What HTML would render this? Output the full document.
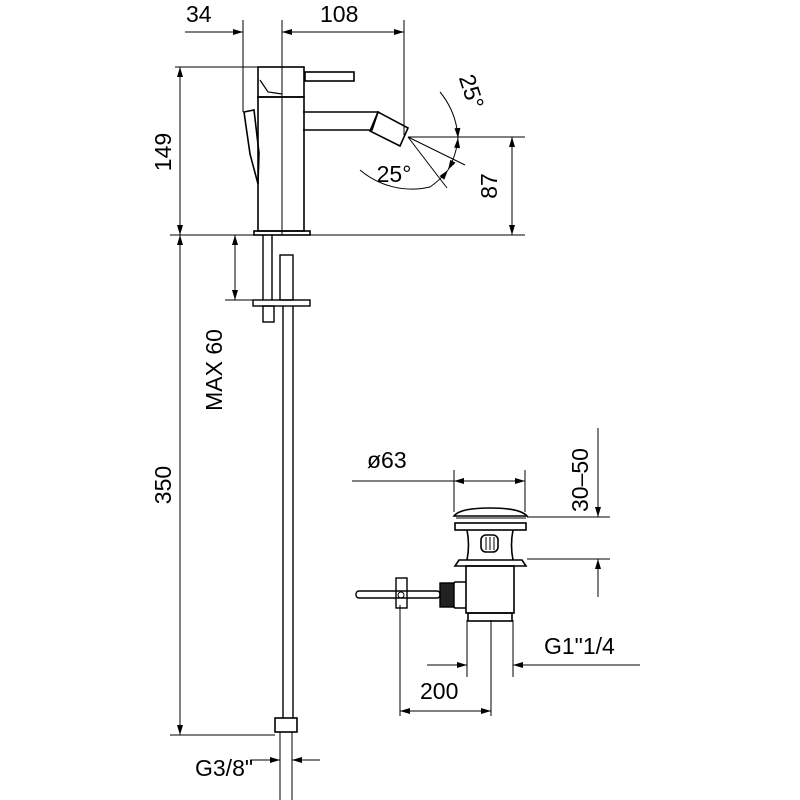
<!DOCTYPE html>
<html><head><style>html,body{margin:0;padding:0;background:#fff}svg{display:block}</style></head><body>
<svg width="800" height="800" viewBox="0 0 800 800" xmlns="http://www.w3.org/2000/svg" font-family="Liberation Sans, DejaVu Sans, sans-serif">
<defs>
<marker id="a" viewBox="0 0 10 6" refX="10" refY="3" markerWidth="12" markerHeight="6" orient="auto-start-reverse" markerUnits="userSpaceOnUse"><path d="M0,0L10,3L0,6z" fill="#000"/></marker>
</defs>
<g stroke="#000" stroke-width="1" fill="none">
<line x1="243" y1="20" x2="243" y2="112"/>
<line x1="282" y1="20" x2="282" y2="235"/>
<line x1="404" y1="20" x2="404" y2="135"/>
<line x1="185" y1="32" x2="243" y2="32" marker-end="url(#a)"/>
<line x1="282" y1="32" x2="404" y2="32" marker-start="url(#a)" marker-end="url(#a)"/>
<line x1="175" y1="67" x2="300" y2="67"/>
<line x1="180" y1="67" x2="180" y2="235" marker-start="url(#a)" marker-end="url(#a)"/>
<line x1="170" y1="235" x2="525" y2="235"/>
<line x1="408" y1="137" x2="525" y2="137"/>
<line x1="512" y1="137" x2="512" y2="235" marker-start="url(#a)" marker-end="url(#a)"/>
<rect x="258" y="67" width="46" height="30" stroke-width="1.6"/>
<rect x="305" y="72" width="49" height="9" stroke-width="1.6"/>
<rect x="258" y="97" width="46" height="134" stroke-width="1.6"/>
<rect x="254" y="231" width="56" height="4" stroke-width="1.6"/>
<path d="M303,112 H378 L372,130 H303" stroke-width="1.6"/>
<path d="M378,112 L408,128 L400,146 L370,131 Z" stroke-width="1.6"/>
<path d="M244,112 L254,110 L259,153 L258,184 L250,154 Z" stroke-width="1.6"/>
<path d="M260,80 L268,92 L282,94" stroke-width="1.2"/>
<line x1="408" y1="137" x2="465" y2="165"/>
<line x1="408" y1="137" x2="447" y2="188"/>
<path d="M440,92 A80,80 0 0 1 458,138" marker-end="url(#a)"/>
<path d="M458,138 A80,80 0 0 1 448,170" marker-start="url(#a)" marker-end="url(#a)"/>
<path d="M448,170 A80,80 0 0 1 430,187" marker-start="url(#a)"/>
<path d="M360,170 A80,80 0 0 0 430,187"/>
<line x1="263" y1="235" x2="263" y2="300" stroke-width="1.4"/>
<line x1="272" y1="235" x2="272" y2="300" stroke-width="1.4"/>
<rect x="280" y="255" width="13" height="45" stroke-width="1.4"/>
<rect x="253" y="300" width="57" height="6" stroke-width="1.4"/>
<rect x="263" y="306" width="11" height="16" stroke-width="1.4"/>
<line x1="283" y1="306" x2="283" y2="718" stroke-width="1.4"/>
<line x1="293" y1="306" x2="293" y2="718" stroke-width="1.4"/>
<rect x="275" y="718" width="22" height="14" stroke-width="1.6"/>
<line x1="280" y1="732" x2="280" y2="800"/>
<line x1="292" y1="732" x2="292" y2="800"/>
<line x1="225" y1="300" x2="262" y2="300"/>
<line x1="235" y1="235" x2="235" y2="300" marker-start="url(#a)" marker-end="url(#a)"/>
<line x1="170" y1="735" x2="275" y2="735"/>
<line x1="180" y1="235" x2="180" y2="735" marker-start="url(#a)" marker-end="url(#a)"/>
<line x1="250" y1="760" x2="280" y2="760" marker-end="url(#a)"/>
<line x1="320" y1="760" x2="292" y2="760" marker-end="url(#a)"/>
<line x1="454" y1="470" x2="454" y2="512"/>
<line x1="525" y1="470" x2="525" y2="512"/>
<line x1="352" y1="481" x2="454" y2="481"/>
<line x1="454" y1="481" x2="525" y2="481" marker-start="url(#a)" marker-end="url(#a)"/>
<path d="M454,516 Q460,508 490,508 Q520,508 527,516 Z" stroke-width="1.6"/>
<line x1="456" y1="518" x2="526" y2="518"/>
<rect x="455" y="523" width="71" height="7" stroke-width="1.6"/>
<path d="M467,530 Q470,545 467,560 M513,530 Q510,545 513,560" stroke-width="1.6"/>
<rect x="481" y="535" width="17" height="17" rx="5" stroke-width="1.6"/>
<line x1="486" y1="537" x2="486" y2="550"/><line x1="490" y1="537" x2="490" y2="550"/><line x1="494" y1="537" x2="494" y2="550"/>
<path d="M455,566 L459,560 H522 L526,566 Z" stroke-width="1.6"/>
<rect x="466" y="566" width="48" height="47" stroke-width="1.6"/>
<rect x="468" y="613" width="44" height="8" stroke-width="1.6"/>
<path d="M466,582 H455 Q440,595 455,608 H466" stroke-width="1.6"/>
<rect x="440" y="583" width="14" height="24" fill="#222" stroke-width="1.4"/>
<rect x="356" y="591" width="84" height="7" rx="3" stroke-width="1.4"/>
<rect x="396" y="578" width="11" height="30" stroke-width="1.4"/>
<circle cx="401" cy="595" r="3"/>
<line x1="527" y1="517" x2="610" y2="517"/>
<line x1="527" y1="559" x2="610" y2="559"/>
<line x1="598" y1="428" x2="598" y2="517" marker-end="url(#a)"/>
<line x1="598" y1="597" x2="598" y2="559" marker-end="url(#a)"/>
<line x1="467" y1="620" x2="467" y2="677"/>
<line x1="513" y1="620" x2="513" y2="677"/>
<line x1="427" y1="665" x2="467" y2="665" marker-end="url(#a)"/>
<line x1="640" y1="665" x2="513" y2="665" marker-end="url(#a)"/>
<line x1="400" y1="605" x2="400" y2="716"/>
<line x1="491" y1="620" x2="491" y2="716"/>
<line x1="400" y1="711" x2="491" y2="711" marker-start="url(#a)" marker-end="url(#a)"/>
</g>
<g font-size="23" fill="#000">
<text x="186" y="22">34</text>
<text x="320" y="22">108</text>
<text x="0" y="0" transform="translate(171,152) rotate(-90)" text-anchor="middle">149</text>
<text x="0" y="0" transform="translate(497,186) rotate(-90)" text-anchor="middle">87</text>
<text x="0" y="0" transform="translate(222,370) rotate(-90)" text-anchor="middle">MAX 60</text>
<text x="0" y="0" transform="translate(171,485) rotate(-90)" text-anchor="middle">350</text>
<text x="0" y="0" transform="translate(464,94) rotate(72)" text-anchor="middle">25°</text>
<text x="394" y="182" text-anchor="middle">25°</text>
<text x="195" y="776">G3/8"</text>
<text x="367" y="468">ø63</text>
<text x="0" y="0" transform="translate(588,480) rotate(-90)" text-anchor="middle">30–50</text>
<text x="544" y="654">G1"1/4</text>
<text x="420" y="699">200</text>
</g>
</svg>
</body></html>
